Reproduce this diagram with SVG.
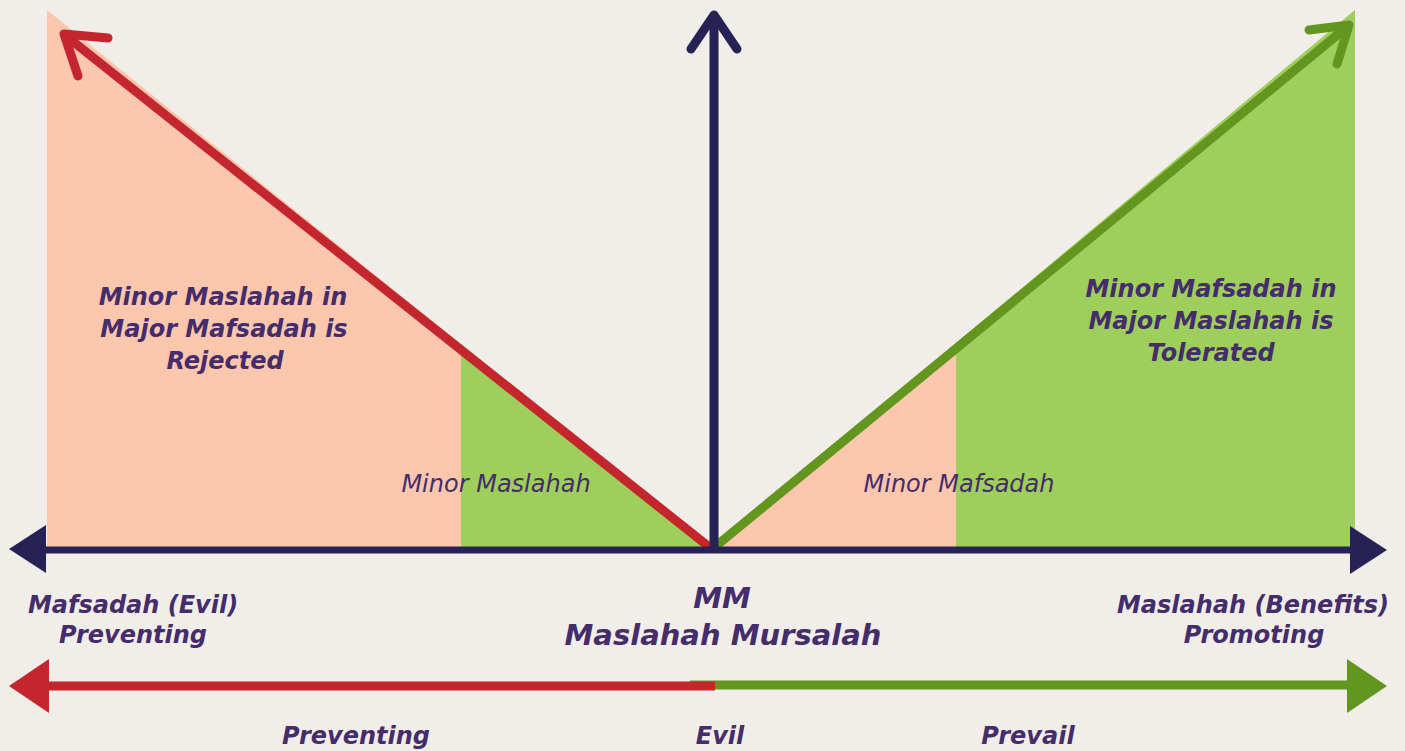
<svg xmlns="http://www.w3.org/2000/svg" width="1405" height="751" viewBox="0 0 1405 751">
<style>
.t{font-family:"DejaVu Sans","Liberation Sans",sans-serif;font-weight:bold;font-style:italic;fill:#452C6B;text-anchor:middle}
.big{font-size:24px}
.mm{font-size:29px}
.mid{font-size:24px;font-weight:normal}
.peach{fill:#FDC7AE}
.lgreen{fill:#9ECE5B}
</style>
<rect width="1405" height="751" fill="#F1EEE9"/>
<g id="left-region">
<polygon class="peach" points="47,10 47,547 712,547"/>
<polygon class="lgreen" points="461,344 461,547 712,547"/>
</g>
<g id="right-region">
<polygon class="peach" points="712,547 1355,10 1355,547"/>
<polygon class="lgreen" points="956,343 1355,10 1355,547 956,547"/>
</g>
<g id="connectors" fill="none" stroke-linecap="round" stroke-linejoin="round">
<g id="red-diagonal" stroke="#C4262D" stroke-width="9">
<line x1="708" y1="546" x2="66" y2="36"/>
<polyline points="108,38 64,34 78,76"/>
</g>
<g id="green-diagonal" stroke="#62961F" stroke-width="9">
<line x1="716" y1="546" x2="1347" y2="27"/>
<polyline points="1309,30 1349,25 1337,64"/>
</g>
<g id="vertical-axis" stroke="#272255" stroke-width="9">
<line x1="714" y1="548" x2="714" y2="16"/>
<polyline points="691,49 714,15 737,49"/>
</g>
<g id="horizontal-axis" stroke-linecap="butt">
<line x1="44" y1="550" x2="1352" y2="550" stroke="#272255" stroke-width="7"/>
<polygon points="9,549 46,525 46,573" fill="#272255"/>
<polygon points="1387,550 1350,526 1350,574" fill="#272255"/>
</g>
<g id="bottom-arrow" stroke-linecap="butt">
<line x1="690" y1="685" x2="1350" y2="685" stroke="#62961F" stroke-width="9"/>
<polygon points="1387,686 1347,659 1347,713" fill="#62961F"/>
<line x1="46" y1="686" x2="715" y2="686" stroke="#C4262D" stroke-width="9"/>
<polygon points="9,686 49,659 49,713" fill="#C4262D"/>
</g>
</g>
<g id="label-rejected">
<text class="t big" x="223" y="305">Minor Maslahah in</text>
<text class="t big" x="224" y="337">Major Mafsadah is</text>
<text class="t big" x="225" y="369">Rejected</text>
</g>
<g id="label-tolerated">
<text class="t big" x="1211" y="297">Minor Mafsadah in</text>
<text class="t big" x="1211" y="329">Major Maslahah is</text>
<text class="t big" x="1211" y="361">Tolerated</text>
</g>
<g id="label-minor-maslahah"><text class="t mid" x="496" y="492">Minor Maslahah</text></g>
<g id="label-minor-mafsadah"><text class="t mid" x="959" y="492">Minor Mafsadah</text></g>
<g id="label-mafsadah">
<text class="t big" x="133" y="613">Mafsadah (Evil)</text>
<text class="t big" x="133" y="643">Preventing</text>
</g>
<g id="label-maslahah">
<text class="t big" x="1253" y="613">Maslahah (Benefits)</text>
<text class="t big" x="1254" y="643">Promoting</text>
</g>
<g id="label-mm">
<text class="t mm" x="722" y="608">MM</text>
<text class="t mm" x="723" y="645">Maslahah Mursalah</text>
</g>
<g id="label-bottom">
<text class="t big" x="356" y="744">Preventing</text>
<text class="t big" x="720" y="744">Evil</text>
<text class="t big" x="1028" y="744">Prevail</text>
</g>
</svg>
